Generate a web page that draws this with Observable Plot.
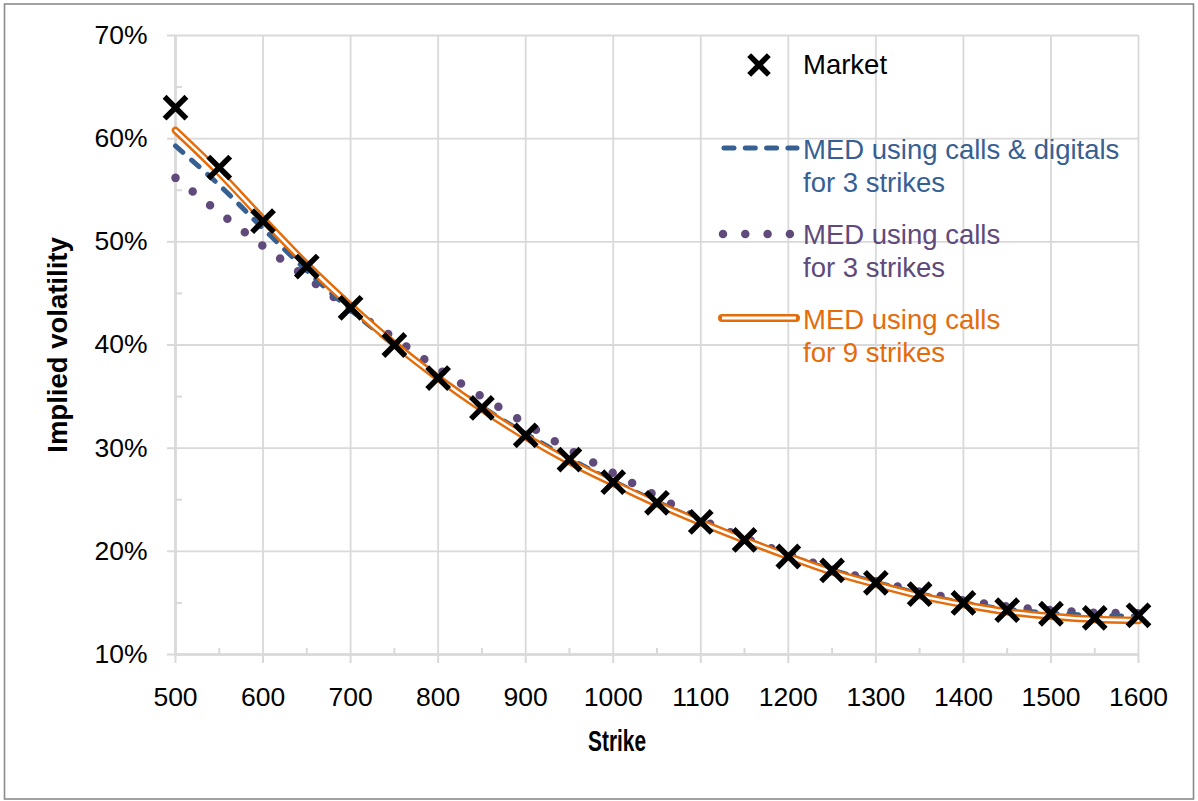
<!DOCTYPE html>
<html><head><meta charset="utf-8">
<script src="https://cdn.jsdelivr.net/npm/d3@7"></script>
<script src="https://cdn.jsdelivr.net/npm/@observablehq/plot@0.6"></script>
<style>body{margin:0;background:#fff;} svg{display:block;}</style>
</head><body><div id="chart"></div>
<script>
const strikes = [500,550,600,650,700,750,800,850,900,950,1000,1050,1100,1150,1200,1250,1300,1350,1400,1450,1500,1550,1600];
const marketVol = [63.0,57.2,52.0,47.6,43.6,40.0,36.8,33.9,31.25,28.9,26.7,24.7,22.85,21.1,19.5,18.15,16.95,15.85,15.0,14.3,13.95,13.55,13.8];
const medCallsDigitals3 = [59.3,55.5,51.3,47.2,43.4,40.0,36.9,34.0,31.4,29.0,26.8,24.8,22.9,21.2,19.6,18.2,17.0,15.9,15.0,14.4,14.0,13.8,13.7];
const medCalls3 = [56.2,52.85,49.6,46.55,43.5,40.65,37.7,35.0,32.4,29.85,27.6,25.35,23.1,21.3,19.7,18.3,17.1,16.1,15.25,14.65,14.3,14.05,14.0];
const medCalls9 = [60.8,56.7,52.2,47.8,43.8,40.1,36.8,33.8,31.1,28.7,26.6,24.6,22.8,21.1,19.5,18.0,16.8,15.7,14.85,14.15,13.7,13.4,13.3];

const xTicks = [500,600,700,800,900,1000,1100,1200,1300,1400,1500,1600];
const xMinor = [550,650,750,850,950,1050,1150,1250,1350,1450,1550];
const yTicks = [10,20,30,40,50,60,70];
const yMinor = [15,25,35,45,55,65];
const legendLabels = [
  ["Market"],
  ["MED using calls & digitals", "for 3 strikes"],
  ["MED using calls", "for 3 strikes"],
  ["MED using calls", "for 9 strikes"]
];
const xLabel = "Strike";
const yLabel = "Implied volatility";

const C = {blue:"#376092", purple:"#604A7B", orange:"#E46C0A", grid:"#d9d9d9"};
const font = "'Liberation Sans', Arial, sans-serif";
const FS = 26.5;
const LFS = 27.5;

const rows = strikes.map((k,i)=>({k, m:marketVol[i], b:medCallsDigitals3[i], p:medCalls3[i], o:medCalls9[i]}));
const curve = "catmull-rom";

const chart = Plot.plot({
  width:1198, height:801,
  marginTop:35, marginRight:60, marginBottom:147, marginLeft:175,
  style:{fontFamily:font, background:"white", overflow:"visible"},
  x:{domain:[500,1600], axis:null},
  y:{domain:[10,70], axis:null},
  marks:[
    Plot.gridX(xTicks,{stroke:C.grid, strokeOpacity:1, strokeWidth:1.8}),
    Plot.gridY(yTicks,{stroke:C.grid, strokeOpacity:1, strokeWidth:1.8}),
    Plot.ruleY([10],{stroke:C.grid, strokeWidth:2.6}),
    Plot.ruleX([500],{stroke:C.grid, strokeWidth:2.6}),
    Plot.axisX(xTicks,{tickSize:9, tickPadding:24, stroke:C.grid, strokeWidth:2, fill:"black", fontSize:FS, label:null, tickFormat:d=>String(d)}),
    Plot.axisX(xMinor,{tickSize:6, dy:-6, stroke:C.grid, strokeWidth:2, tickFormat:()=>"", label:null}),
    Plot.axisY(yTicks,{tickSize:8, tickPadding:20, stroke:C.grid, strokeWidth:2, fill:"black", fontSize:FS, label:null, tickFormat:d=>d+"%"}),
    Plot.axisY(yMinor,{tickSize:7, dx:7, stroke:C.grid, strokeWidth:2, tickFormat:()=>"", label:null}),
    Plot.text([xLabel],{text:d=>d, frameAnchor:"bottom", textAnchor:"middle", dx:-40, dy:96, fontWeight:"bold", fontSize:29, fill:"black"}),
    Plot.text([yLabel],{text:d=>d, frameAnchor:"left", textAnchor:"middle", dx:-117, rotate:-90, fontWeight:"bold", fontSize:27.5, fill:"black"}),
    Plot.line(rows,{x:"k", y:"p", stroke:C.purple, strokeWidth:8.5, strokeDasharray:"0,22", strokeLinecap:"round", curve}),
    Plot.line(rows,{x:"k", y:"b", stroke:C.blue, strokeWidth:5, strokeDasharray:"10,11.5", strokeLinecap:"round", curve}),
    Plot.line(rows,{x:"k", y:"o", stroke:C.orange, strokeWidth:7.5, curve}),
    Plot.line(rows,{x:"k", y:"o", stroke:"white", strokeWidth:2.6, curve}),
    Plot.dot(rows,{x:"k", y:"m", symbol:"times", r:10, stroke:"black", strokeWidth:5.5})
  ]
});
document.getElementById("chart").append(chart);

const svg = d3.select(chart);
// condensed x label
svg.selectAll("text").filter(function(){return this.textContent===xLabel;})
  .attr("textLength", 58).attr("lengthAdjust","spacingAndGlyphs");

// outer border
svg.append("rect").attr("x",4.5).attr("y",4).attr("width",1189).attr("height",795)
  .attr("fill","none").attr("stroke","#8a8a8a").attr("stroke-width",1.6);

// legend
const lg = svg.append("g").attr("font-family", font).attr("font-size", LFS).attr("text-anchor","start");
lg.append("path").attr("transform","translate(759,65)")
  .attr("d", d3.symbol(d3.symbolTimes, Math.PI*81)()).attr("fill","none").attr("stroke","black").attr("stroke-width",5.5);
lg.append("line").attr("x1",724).attr("x2",797).attr("y1",148).attr("y2",148)
  .attr("stroke",C.blue).attr("stroke-width",5).attr("stroke-dasharray","10,11.3").attr("stroke-linecap","round");
lg.append("line").attr("x1",723).attr("x2",791).attr("y1",234).attr("y2",234)
  .attr("stroke",C.purple).attr("stroke-width",8.5).attr("stroke-dasharray","0,22.3").attr("stroke-linecap","round");
lg.append("line").attr("x1",722).attr("x2",796).attr("y1",318).attr("y2",318)
  .attr("stroke",C.orange).attr("stroke-width",8).attr("stroke-linecap","round");
lg.append("line").attr("x1",722).attr("x2",796).attr("y1",318).attr("y2",318)
  .attr("stroke","white").attr("stroke-width",2.8);
const legendColors = ["black", C.blue, C.purple, C.orange];
const baselines = [[74],[158.5,191.5],[243.5,276.5],[328.5,361.5]];
legendLabels.forEach((lines,i)=>{
  lines.forEach((t,j)=>{
    lg.append("text").attr("x",803).attr("y",baselines[i][j]).attr("fill",legendColors[i]).text(t);
  });
});
</script>
</body></html>
